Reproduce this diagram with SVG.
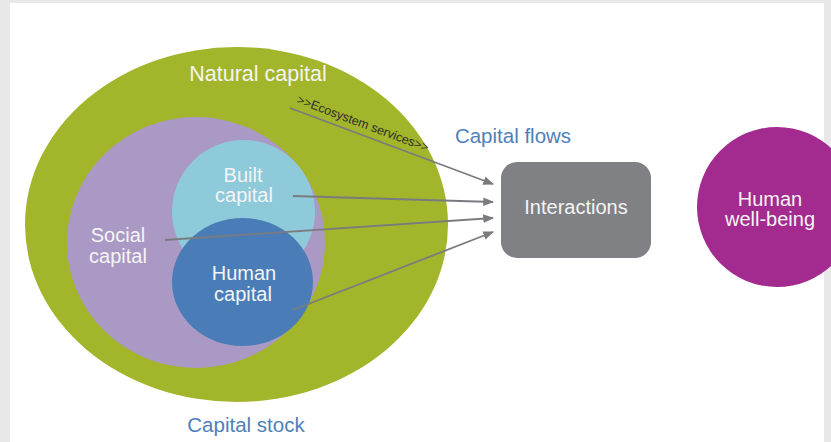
<svg xmlns="http://www.w3.org/2000/svg" width="831" height="442" viewBox="0 0 831 442">
<style>
.lbl{font-family:"Liberation Sans",Arial,sans-serif;font-size:20px;fill:#f4f4f4;text-anchor:middle}
.blue{font-family:"Liberation Sans",Arial,sans-serif;font-size:20.5px;fill:#4f80b8;text-anchor:middle}
.conn{stroke:#7a7b7e;stroke-width:1.8;fill:none;marker-end:url(#ah)}
</style>
<defs>
<marker id="ah" viewBox="0 0 10 10" refX="9" refY="5" markerWidth="6" markerHeight="6" orient="auto" markerUnits="strokeWidth">
<path d="M0,1 L10,5 L0,9 Z" fill="#7a7b7e"/>
</marker>
</defs>
<rect x="0" y="0" width="831" height="442" fill="#e8e8e8"/>
<rect x="10" y="3" width="814" height="439" fill="#ffffff"/>
<g id="natural-capital">
<ellipse cx="236.5" cy="224.5" rx="211.5" ry="177.5" fill="#a3b52a"/>
<text class="lbl" x="258" y="81" style="font-size:21.5px">Natural capital</text>
</g>
<g id="social-capital">
<ellipse cx="196" cy="242.5" rx="129" ry="125.5" fill="#ab99c5"/>
<text class="lbl" x="118" y="242">Social</text>
<text class="lbl" x="118" y="263">capital</text>
</g>
<g id="built-capital">
<circle cx="243.5" cy="211.5" r="71.5" fill="#8ecad9"/>
<text class="lbl" x="243" y="182">Built</text>
<text class="lbl" x="244" y="202">capital</text>
</g>
<g id="human-capital">
<ellipse cx="242.5" cy="282" rx="70.5" ry="64" fill="#4a7db8"/>
<text class="lbl" x="244" y="280">Human</text>
<text class="lbl" x="243" y="301">capital</text>
</g>
<g id="interactions">
<rect x="501" y="162" width="150" height="96" rx="16" fill="#808184"/>
<text class="lbl" x="576" y="214">Interactions</text>
</g>
<g id="human-well-being">
<circle cx="777" cy="207" r="80" fill="#a32a8f"/>
<text class="lbl" x="770" y="206">Human</text>
<text class="lbl" x="770" y="226">well-being</text>
</g>
<g id="labels">
<text class="blue" x="513" y="143">Capital flows</text>
<text class="blue" x="246" y="432">Capital stock</text>
</g>
<g id="connectors">
<path class="conn" d="M290,108 L493,184"/>
<path class="conn" d="M293,196 L493,202"/>
<path class="conn" d="M165,240 L493,218"/>
<path class="conn" d="M293,310 L493,232"/>
<text x="296" y="103" transform="rotate(20.5 296 103)" font-family="'Liberation Sans',Arial,sans-serif" font-size="12.5" fill="#2e2e2e">&gt;&gt;Ecosystem services&gt;&gt;</text>
</g>
</svg>
